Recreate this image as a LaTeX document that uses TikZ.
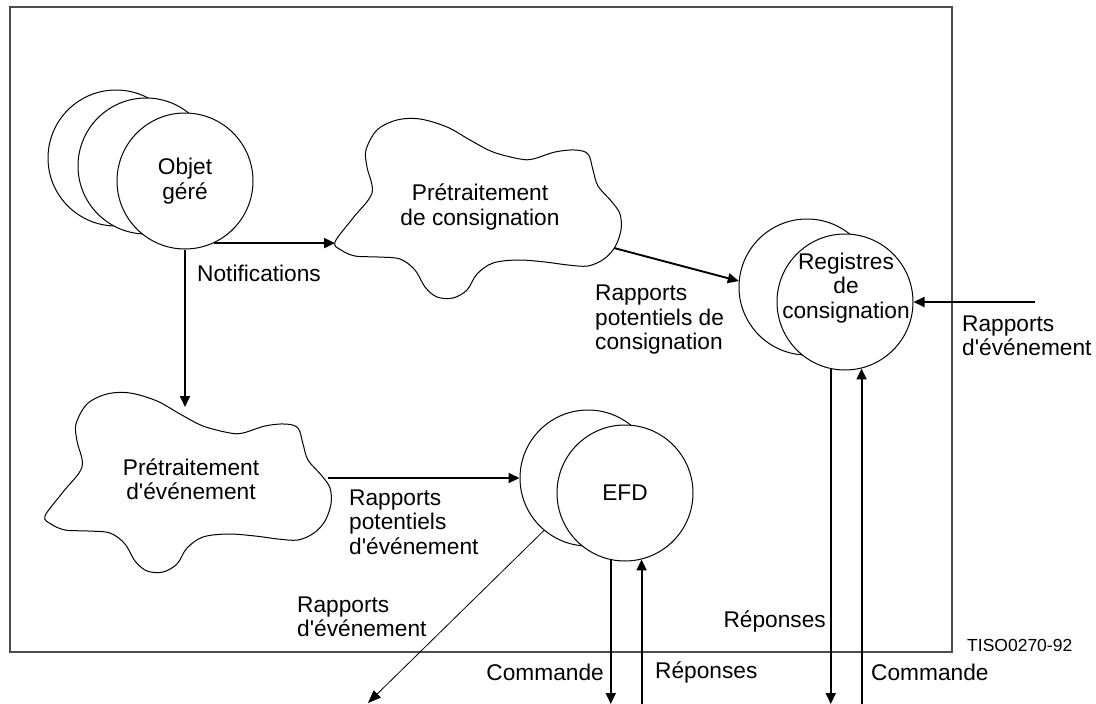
\documentclass[tikz,border=0pt]{standalone}
\usepackage{fontspec}
\setmainfont{Liberation Sans}[Ligatures=TeXOff]
\usetikzlibrary{arrows.meta}
\tikzset{
  circ/.style={circle, draw, line width=1pt, fill=white, minimum size=136pt, inner sep=0pt, align=center, font=\fontsize{22.7}{24.5}\selectfont},
  arr/.style={line width=1.9pt, -{Triangle[length=11pt,width=10pt]}},
  thinarr/.style={line width=0.8pt, -{Triangle[length=13pt,width=10pt]}},
  lbl/.style={inner sep=0pt, font=\fontsize{22.7}{24.5}\selectfont},
  smalllbl/.style={inner sep=0pt, font=\fontsize{17.5}{20}\selectfont},
  cloudline/.style={draw, line width=1pt, fill=white},
  framebox/.style={draw=black!70, line width=1.4pt}
}
\newcommand\mycloudshape{plot[smooth cycle, tension=0.55] coordinates {
 (-145,36) (-127,12) (-108,-13) (-113,-39) (-114,-56) (-103,-76) (-83,-86)
 (-60,-87) (-33,-79) (-10,-66) (13,-54) (40,-47) (53,-47) (75,-54) (95,-56)
 (108,-52) (113,-36) (118,-20) (132,-4) (140,8) (141,24) (135,41) (124,53)
 (108,60) (88,59) (65,56) (38,54) (13,57) (-3,68) (-13,84) (-27,92) (-43,91)
 (-55,81) (-65,64) (-80,53) (-102,51) (-125,50) (-139,44)}}
\begin{document}
\begin{tikzpicture}[x=1pt, y=-1pt]
\useasboundingbox (0,0) rectangle (1096,704);
% frame
\draw[framebox] (10,7) rectangle (952,652);
% helper coordinates
\coordinate (bot) at (0,704);
\coordinate (c1w) at (335,243);
\coordinate (c1se) at (614,248);
\coordinate (c2top) at (185,407);
\coordinate (c2e) at (328,478);
\coordinate (extin) at (1035,302);
\coordinate (diagend) at (368,703);
% clouds
\draw[cloudline, shift={(480,206)}] \mycloudshape;
\draw[cloudline, shift={(190,480)}] \mycloudshape;
\node[lbl, align=center] (c1txt) at (480,207) {Prétraitement\\de consignation};
\node[lbl, align=center] (c2txt) at (191,479) {Prétraitement\\d'événement};
% Objet gere
\node[circ] (obja) at (116,158) {};
\node[circ] (objb) at (146,166) {};
\node[circ] (obj) at (185,181) {Objet\\géré};
% Registres
\node[circ] (rega) at (807,287) {};
\node[circ] (reg) at (845,302) {};
\node[lbl, align=center] (regtxt) at (846,288) {Registres\\de\\consignation};
% EFD
\node[circ] (efda) at (588,478) {};
\node[circ] (efd) at (625,493) {EFD};
% connectors
\draw[arr] (obj.-65.7) -- (obj.-65.7 -| c1w);
\draw[arr] (obj.south) -- (obj.south |- c2top);
\draw[arr] (c1se) -- (rega.175);
\draw[arr] (c2e) -- (efda.west);
\draw[arr] (extin) -- (reg.east);
\draw[thinarr] (efda.-130) -- (diagend);
\draw[arr] (efd.-102.7) -- (efd.-102.7 |- bot);
\draw[arr] (efd.-76.4 |- bot) -- (efd.-76.4);
\draw[arr] (reg.-102) -- (reg.-102 |- bot);
\draw[arr] (reg.-76.4 |- bot) -- (reg.-76.4);
% labels
\node[lbl, anchor=west] (lnotif) at (197,273) {Notifications};
\node[lbl, anchor=west, align=left] (lrpc) at (595,320) {Rapports\\potentiels de\\consignation};
\node[lbl, anchor=west, align=left] (lrpe) at (349,522) {Rapports\\potentiels\\d'événement};
\node[lbl, anchor=west, align=left] (lre1) at (962,336) {Rapports\\d'événement};
\node[lbl, anchor=west, align=left] (lre2) at (297,617) {Rapports\\d'événement};
\node[lbl, anchor=east] (lcmd1) at (604,672) {Commande};
\node[lbl, anchor=west] (lrep1) at (655,672) {Réponses};
\node[lbl, anchor=east] (lrep2) at (826,621) {Réponses};
\node[lbl, anchor=west] (lcmd2) at (871,672) {Commande};
\node[smalllbl, anchor=west] (ltiso) at (967,645) {TISO0270-92};
\end{tikzpicture}
\end{document}
